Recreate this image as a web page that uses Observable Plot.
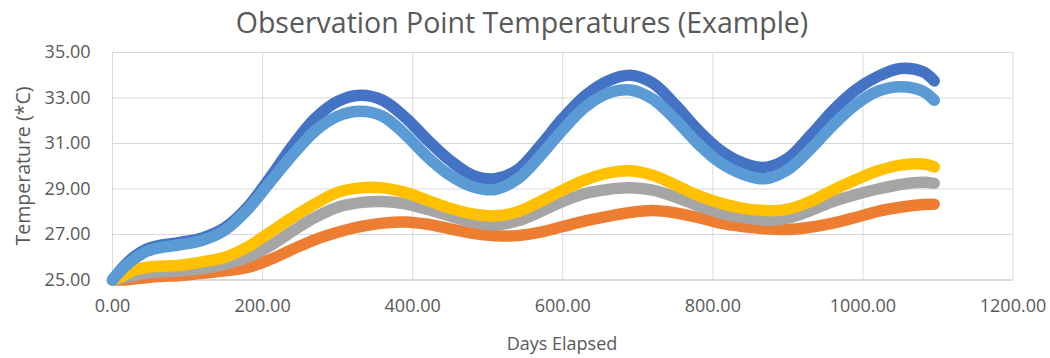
<!DOCTYPE html>
<html>
<head>
<meta charset="utf-8">
<script src="https://cdn.jsdelivr.net/npm/d3@7"></script>
<script src="https://cdn.jsdelivr.net/npm/@observablehq/plot@0.6"></script>
<style>
  body { margin: 0; background: #fff; }
  #chart { position: relative; width: 1050px; height: 358px; font-family: "Open Sans", sans-serif; color: #595959; }
  #chart svg { position: absolute; left: 0; top: 0; }
  .title { position: absolute; left: 0; top: 1px; width: 1044px; text-align: center; font-size: 28.5px; line-height: 42px; }
  .xlabel { position: absolute; left: 462px; width: 200px; top: 330px; text-align: center; font-size: 18px; line-height: 26px; }
  .ylabel { position: absolute; left: 23px; top: 166px; width: 240px; margin-left: -120px; margin-top: -13px; text-align: center;
            font-size: 19.5px; line-height: 26px; transform: rotate(-90deg); }
</style>
</head>
<body>
<div id="chart">
  <div class="title">Observation Point Temperatures (Example)</div>
  <div class="ylabel">Temperature (*C)</div>
  <div class="xlabel">Days Elapsed</div>
</div>
<script>
// Sampling days (x values shared by every observation point)
const days = [0, 15, 30, 45, 60, 90, 120, 150, 180, 210, 240, 270, 300, 330, 360, 390, 420, 450, 480, 510,
              540, 570, 600, 630, 660, 690, 720, 750, 780, 810, 840, 870, 900, 930, 960, 990, 1020, 1050, 1080, 1095];

// Temperatures (°C) for each observation point
const point1 = [25.0, 25.6, 26.05, 26.35, 26.5, 26.65, 26.85, 27.3, 28.2, 29.5, 30.9, 32.1, 32.85, 33.12, 32.9, 32.15, 31.15, 30.25, 29.6, 29.45,
                29.85, 30.9, 32.1, 33.1, 33.75, 34.0, 33.65, 32.7, 31.6, 30.7, 30.15, 29.95, 30.35, 31.35, 32.45, 33.35, 33.95, 34.3, 34.15, 33.75];
const point2 = [25.0, 25.0, 25.05, 25.1, 25.15, 25.2, 25.3, 25.4, 25.55, 25.9, 26.35, 26.78, 27.1, 27.35, 27.5, 27.55, 27.45, 27.25, 27.05, 26.95,
                26.95, 27.1, 27.35, 27.6, 27.8, 27.97, 28.05, 27.95, 27.75, 27.5, 27.35, 27.25, 27.22, 27.32, 27.5, 27.75, 28.02, 28.2, 28.32, 28.33];
const point3 = [25.0, 25.1, 25.2, 25.3, 25.35, 25.4, 25.5, 25.7, 26.0, 26.5, 27.15, 27.75, 28.2, 28.4, 28.45, 28.35, 28.1, 27.8, 27.55, 27.42,
                27.6, 28.0, 28.45, 28.8, 28.98, 29.05, 28.95, 28.65, 28.27, 27.95, 27.75, 27.63, 27.72, 28.05, 28.45, 28.75, 29.0, 29.2, 29.3, 29.25];
const point4 = [25.0, 25.2, 25.45, 25.55, 25.6, 25.65, 25.8, 26.0, 26.45, 27.1, 27.75, 28.35, 28.85, 29.05, 29.05, 28.85, 28.5, 28.15, 27.9, 27.82,
                28.0, 28.45, 28.95, 29.4, 29.7, 29.8, 29.6, 29.18, 28.72, 28.38, 28.15, 28.05, 28.12, 28.45, 28.95, 29.4, 29.8, 30.05, 30.1, 29.97];
const point5 = [25.0, 25.55, 25.95, 26.25, 26.4, 26.55, 26.75, 27.2, 28.1, 29.3, 30.5, 31.55, 32.2, 32.42, 32.2, 31.4, 30.4, 29.6, 29.1, 28.98,
                29.45, 30.45, 31.6, 32.6, 33.2, 33.35, 32.95, 32.05, 31.0, 30.15, 29.65, 29.45, 29.85, 30.75, 31.8, 32.7, 33.3, 33.5, 33.3, 32.9];

// Axis ticks
const xTicks = [0, 200, 400, 600, 800, 1000, 1200];
const yTicks = [25, 27, 29, 31, 33, 35];

// Series in drawing order (later ones sit on top)
const seriesNames = ["Point 1", "Point 2", "Point 3", "Point 4", "Point 5"];
const seriesValues = [point1, point2, point3, point4, point5];
const seriesColors = ["#4472C4", "#ED7D31", "#A5A5A5", "#FFC000", "#5B9BD5"];

const rows = seriesNames.flatMap((name, s) =>
  days.map((day, i) => ({ series: name, day, temp: seriesValues[s][i] })));

const fmt = d => d.toFixed(2);

const chart = Plot.plot({
  width: 1050,
  height: 358,
  marginTop: 52,
  marginBottom: 78.5,
  marginLeft: 112,
  marginRight: 37.5,
  style: { fontFamily: "Open Sans, sans-serif", fontSize: "18px", color: "#595959", background: "transparent" },
  x: { domain: [0, 1200] },
  y: { domain: [25, 35] },
  color: { domain: seriesNames, range: seriesColors },
  marks: [
    Plot.gridX(xTicks, { stroke: "#d9d9d9", strokeOpacity: 1 }),
    Plot.gridY(yTicks, { stroke: "#d9d9d9", strokeOpacity: 1 }),
    Plot.ruleY([25], { stroke: "#c8c8c8", strokeWidth: 1.2 }),
    Plot.axisX(xTicks, { tickSize: 0, tickPadding: 19, tickFormat: fmt, label: null, fontSize: 18 }),
    Plot.axisY(yTicks, { tickSize: 0, tickPadding: 22, tickFormat: fmt, label: null, fontSize: 18 }),
    Plot.line(rows, {
      x: "day", y: "temp", z: "series", stroke: "series",
      strokeWidth: 11.5, curve: "catmull-rom", strokeLinecap: "round", strokeLinejoin: "round"
    })
  ]
});

document.getElementById("chart").appendChild(chart);
</script>
</body>
</html>
